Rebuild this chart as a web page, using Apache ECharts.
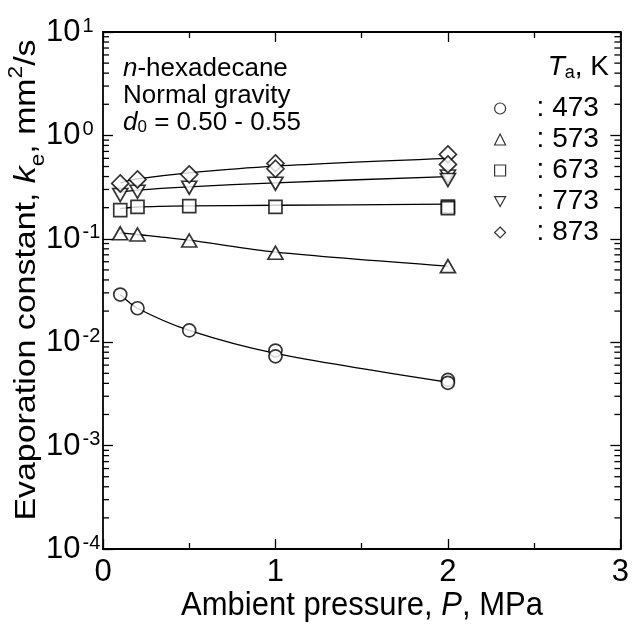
<!DOCTYPE html>
<html><head><meta charset="utf-8">
<script src="https://cdn.jsdelivr.net/npm/echarts@6/dist/echarts.min.js"></script>
<style>html,body{margin:0;padding:0;background:#fff}#c{width:632px;height:626px}</style>
</head><body><div id="c"></div>
<script>
// ---- data ----
const temps = ['473', '573', '673', '773', '873'];
const p473 = [0.1, 0.2, 0.5, 1, 1, 2, 2];
const k473 = [0.0289, 0.0213, 0.0130, 0.0083, 0.0073, 0.00432, 0.00405];
const p573 = [0.1, 0.2, 0.5, 1, 2];
const k573 = [0.113, 0.110, 0.0963, 0.0733, 0.0544];
const p673 = [0.1, 0.2, 0.5, 1, 2, 2];
const k673 = [0.189, 0.204, 0.207, 0.204, 0.205, 0.198];
const p773 = [0.1, 0.2, 0.5, 1, 2, 2];
const k773 = [0.265, 0.285, 0.312, 0.341, 0.40, 0.37];
const p873 = [0.1, 0.2, 0.5, 1, 1, 2, 2];
const k873 = [0.343, 0.375, 0.42, 0.536, 0.476, 0.655, 0.524];
// fitted curves
const fitP = [0.1, 0.2, 0.5, 1, 2];
const fit473 = [0.0289, 0.0213, 0.0130, 0.0078, 0.0041];
const fit573 = [0.114, 0.110, 0.097, 0.0743, 0.0544];
const fit673 = [0.196, 0.203, 0.208, 0.211, 0.216];
const fit773 = [0.283, 0.296, 0.318, 0.348, 0.40];
const fit873 = [0.348, 0.38, 0.435, 0.505, 0.60];
const xTicks = [0, 1, 2, 3];
const yMin = 1e-4, yMax = 10;

const FONT = '"Liberation Sans", Arial, sans-serif';
const pts = [[p473, k473], [p573, k573], [p673, k673], [p773, k773], [p873, k873]];
const fits = [fit473, fit573, fit673, fit773, fit873];
const symbols = ['circle', 'triangle', 'rect', 'path://M0,0 L10,0 L5,9 Z', 'diamond'];
const sizes = [[13, 13], [15, 13], [13, 13], [15, 13], [17, 17]];

const zip = (a, b) => a.map((v, i) => [v, b[i]]);
const series = [];
fits.forEach((f) => {
  series.push({
    type: 'line', data: zip(fitP, f), smooth: 0.3, showSymbol: false, symbol: 'none',
    lineStyle: { color: '#000', width: 1.3 }, silent: true, z: 2
  });
});
pts.forEach((pk, i) => {
  series.push({
    name: temps[i], type: 'scatter', data: zip(pk[0], pk[1]),
    symbol: symbols[i], symbolSize: sizes[i],
    itemStyle: { color: '#fff', borderColor: '#000', borderWidth: 1.7 }, z: 5
  });
});
// minor log ticks on left/right
const minorVals = [];
for (let e = -4; e < 1; e++) for (let m = 2; m <= 9; m++) minorVals.push(m * Math.pow(10, e));
series.push({
  type: 'custom', coordinateSystem: 'cartesian2d', silent: true, clip: false, z: 10,
  data: minorVals.map(v => [0, v]),
  renderItem: (params, api) => {
    const v = api.value(1);
    const l = api.coord([0, v]);
    const r = api.coord([3, v]);
    return { type: 'group', children: [
      { type: 'line', shape: { x1: l[0], y1: l[1], x2: l[0] + 6, y2: l[1] }, style: { stroke: '#000', lineWidth: 1.3 } },
      { type: 'line', shape: { x1: r[0], y1: r[1], x2: r[0] - 6, y2: r[1] }, style: { stroke: '#000', lineWidth: 1.3 } }
    ] };
  }
});

const axisCommon = {
  axisLine: { show: true, onZero: false, lineStyle: { color: '#000', width: 1.8 } },
  axisTick: { show: true, inside: true, length: 10, lineStyle: { color: '#000', width: 1.3 } },
  splitLine: { show: false }
};
const xAxisBase = Object.assign({}, axisCommon, {
  type: 'value', min: 0, max: 3, interval: 1,
  minorTick: { show: true, splitNumber: 2, length: 6, lineStyle: { color: '#000', width: 1.3 } },
  minorSplitLine: { show: false }
});
const yAxisBase = Object.assign({}, axisCommon, { type: 'log', logBase: 10, min: yMin, max: yMax });

const option = {
  backgroundColor: '#fff',
  animation: false,
  grid: { left: 103, right: 11, top: 32, bottom: 77, containLabel: false },
  xAxis: [
    Object.assign({}, xAxisBase, {
      position: 'bottom',
      axisLabel: { show: true, fontSize: 31, color: '#000', fontFamily: FONT, margin: 8,
        formatter: v => xTicks.includes(v) ? String(v) : '' }
    }),
    Object.assign({}, xAxisBase, { position: 'top', axisLabel: { show: false } })
  ],
  yAxis: [
    Object.assign({}, yAxisBase, {
      position: 'left',
      axisLabel: {
        show: true, margin: 57, align: 'left', color: '#000',
        formatter: v => '{b|10}{s|' + Math.round(Math.log10(v)) + '}',
        rich: {
          b: { fontSize: 31, fontFamily: FONT, color: '#000', lineHeight: 32, verticalAlign: 'bottom' },
          s: { fontSize: 20, fontFamily: FONT, color: '#000', lineHeight: 32, verticalAlign: 'top', padding: [0, 0, 0, 2] }
        }
      }
    }),
    Object.assign({}, yAxisBase, { position: 'right', axisLabel: { show: false } })
  ],
  legend: {
    data: temps.map((t, i) => ({ name: t, icon: symbols[i] })),
    orient: 'vertical', left: 489, top: 88, itemGap: 0,
    itemWidth: 11, itemHeight: 11, selectedMode: false,
    itemStyle: { color: '#fff', borderColor: '#000', borderWidth: 1.2 },
    formatter: n => ': ' + n,
    textStyle: { fontSize: 28, lineHeight: 31, fontFamily: FONT, color: '#000', padding: [0, 0, 0, 26] }
  },
  graphic: [
    { type: 'text', left: 123, top: 55, style: {
      text: '{i|n}-hexadecane\nNormal gravity\n{i|d}{sub|0} = 0.50 - 0.55',
      font: '26px ' + FONT, fill: '#000', lineHeight: 27,
      rich: {
        i: { fontStyle: 'italic', fontSize: 26, fontFamily: FONT, lineHeight: 27 },
        sub: { fontSize: 17, fontFamily: FONT, verticalAlign: 'bottom', lineHeight: 22 }
      } } },
    { type: 'text', right: 23, top: 53, style: {
      text: '{i|T}{sub|a}, K', font: '28px ' + FONT, fill: '#000',
      rich: {
        i: { fontStyle: 'italic', fontSize: 28, fontFamily: FONT, lineHeight: 30 },
        sub: { fontSize: 18, fontFamily: FONT, verticalAlign: 'bottom', lineHeight: 24 }
      } } },
    { type: 'text', x: 27, y: 280, rotation: Math.PI / 2, scaleX: 1.13, style: {
      text: 'Evaporation constant, {i|k}{sub|e}, mm{sup|2}/s', font: '30px ' + FONT, fill: '#000',
      align: 'center', verticalAlign: 'middle',
      rich: {
        i: { fontStyle: 'italic', fontSize: 30, fontFamily: FONT, lineHeight: 34 },
        sub: { fontSize: 20, fontFamily: FONT, verticalAlign: 'bottom', lineHeight: 27 },
        sup: { fontSize: 20, fontFamily: FONT, verticalAlign: 'top', lineHeight: 42 }
      } } },
    { type: 'text', x: 362, y: 606, scaleY: 1.1, style: {
      text: 'Ambient pressure, {i|P}, MPa', font: '31px ' + FONT, fill: '#000',
      align: 'center', verticalAlign: 'middle',
      rich: { i: { fontStyle: 'italic', fontSize: 31, fontFamily: FONT } } } }
  ],
  series: series
};
const chart = echarts.init(document.getElementById('c'), null, { renderer: 'canvas' });
chart.setOption(option);
</script></body></html>
